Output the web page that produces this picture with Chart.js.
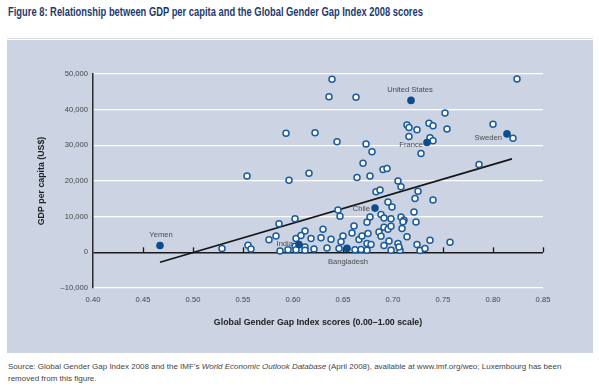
<!DOCTYPE html>
<html lang="en">
<head>
<meta charset="UTF-8">
<title>GDP per capita and the Global Gender Gap Index 2008</title>
<script src="https://cdn.jsdelivr.net/npm/chart.js"></script>
<style>
  body {
    margin: 0;
    width: 599px;
    height: 386px;
    position: relative;
    overflow: hidden;
    background: #fff;
    font-family: "Liberation Sans Narrow", "Liberation Sans", Arial, sans-serif;
  }
  .title {
    position: absolute;
    left: 8px;
    top: 5px;
    font-size: 12px;
    font-weight: bold;
    color: #1d3b6f;
    white-space: nowrap;
    transform: scaleX(0.78);
    transform-origin: left top;
  }
  .rule {
    position: absolute;
    left: 7px;
    width: 586px;
    top: 38px;
    border-top: 1px solid #dcdcdc;
  }
  .panel {
    position: absolute;
    left: 7px;
    top: 40px;
    width: 586px;
    height: 313px;
    background: #ccd3e3;
  }
  .source {
    position: absolute;
    left: 8px;
    top: 361px;
    font-size: 8px;
    line-height: 12px;
    color: #444;
    white-space: nowrap;
  }
</style>
</head>
<body>
<div class="title">Figure 8: Relationship between GDP per capita and the Global Gender Gap Index 2008 scores</div>
<div class="rule"></div>
<div class="panel"><canvas id="chart" width="586" height="313"></canvas></div>
<div class="source">Source: Global Gender Gap Index 2008 and the IMF's <i>World Economic Outlook Database</i> (April 2008), available at www.imf.org/weo; Luxembourg has been<br>removed from this figure.</div>

<script>
// unlabelled countries (open dots)
var openScores = [
  0.639, 0.824, 0.636, 0.663, 0.752, 0.593, 0.622, 0.644, 0.673, 0.679,
  0.714, 0.716, 0.724, 0.716, 0.736, 0.740, 0.754, 0.737, 0.740, 0.728,
  0.800, 0.820, 0.786, 0.554, 0.596, 0.616, 0.670, 0.690, 0.694, 0.664,
  0.677, 0.705, 0.708, 0.683, 0.687, 0.725, 0.722, 0.740, 0.695, 0.699,
  0.645, 0.647, 0.677, 0.674, 0.688, 0.691, 0.698, 0.708, 0.711, 0.710,
  0.721, 0.723, 0.661, 0.659, 0.650, 0.648, 0.646, 0.630, 0.628, 0.638,
  0.634, 0.618, 0.621, 0.612, 0.612, 0.612, 0.662, 0.668, 0.666, 0.669,
  0.675, 0.674, 0.674, 0.678, 0.686, 0.688, 0.691, 0.695, 0.698, 0.691,
  0.696, 0.698, 0.705, 0.707, 0.706, 0.709, 0.714, 0.724, 0.727, 0.732,
  0.737, 0.757, 0.529, 0.555, 0.558, 0.576, 0.583, 0.586, 0.602, 0.587,
  0.595, 0.602, 0.603, 0.608, 0.603
];
var openGdp = [
  48500, 48600, 43600, 43500, 39100, 33400, 33500, 31000, 30400, 28200,
  35700, 35000, 34400, 32500, 36200, 35500, 34600, 32100, 31300, 27700,
  35900, 32000, 24600, 21400, 20200, 22200, 25000, 23200, 23500, 21000,
  21400, 20000, 18400, 17000, 17500, 17100, 15100, 14700, 14100, 12700,
  11900, 10100, 9900, 8400, 10600, 9600, 9400, 9900, 9000, 8600,
  11300, 8500, 7400, 5400, 4600, 3000, 1100, 6500, 4100, 3700,
  1200, 3900, 900, 6000, 1500, 600, 700, 800, 3600, 4600,
  5300, 2500, 600, 2200, 5700, 4500, 7000, 6500, 7300, 1900,
  3200, 600, 2500, 600, 1500, 6700, 4400, 2200, 500, 1100,
  3400, 2800, 1100, 2000, 900, 3500, 4600, 8000, 9400, 400,
  700, 1700, 3900, 4700, 700
];

// labelled countries (filled dots)
var namedCountries = ['Yemen', 'India', 'Bangladesh', 'Chile', 'France', 'United States', 'Sweden'];
var namedScores = [0.467, 0.606, 0.654, 0.682, 0.734, 0.718, 0.814];
var namedGdp = [1900, 2200, 1100, 12400, 30800, 42600, 33200];

// fitted trend line
var trendScores = [0.467, 0.819];
var trendGdp = [-2800, 26200];

function pairs(xs, ys) {
  return xs.map(function(x, i) { return {x: x, y: ys[i]}; });
}

// where each country name sits next to its dot: dx, dy, alignment
var labelPlace = {
  'Yemen': [1, -11, 'center'],
  'India': [-6, -1, 'right'],
  'Bangladesh': [1, 13, 'center'],
  'Chile': [-5, 1, 'right'],
  'France': [-4, 2, 'right'],
  'United States': [-1, -10, 'center'],
  'Sweden': [-5, 4, 'right']
};

var countryLabels = {
  id: 'countryLabels',
  afterDatasetsDraw: function(chart) {
    var ctx = chart.ctx;
    var meta = chart.getDatasetMeta(0);
    ctx.save();
    ctx.font = '7.6px "Liberation Sans Narrow", "Liberation Sans", Arial, sans-serif';
    ctx.fillStyle = '#4a4a4a';
    ctx.textBaseline = 'middle';
    meta.data.forEach(function(pt, i) {
      var p = labelPlace[namedCountries[i]];
      ctx.textAlign = p[2];
      ctx.fillText(namedCountries[i], pt.x + p[0], pt.y + p[1]);
    });
    ctx.restore();
  }
};

// small tick marks standing on the zero line
var zeroTicks = {
  id: 'zeroTicks',
  beforeDatasetsDraw: function(chart) {
    var ctx = chart.ctx;
    var xs = chart.scales.x;
    var y0 = chart.scales.y.getPixelForValue(0);
    ctx.save();
    ctx.strokeStyle = '#1a1a1a';
    ctx.lineWidth = 1.3;
    xs.ticks.forEach(function(t, i) {
      if (i === 0) return;
      var px = Math.round(xs.getPixelForValue(t.value)) + 0.5;
      ctx.beginPath();
      ctx.moveTo(px, y0);
      ctx.lineTo(px, y0 - 5);
      ctx.stroke();
    });
    ctx.restore();
  }
};

Chart.defaults.font.family = '"Liberation Sans Narrow", "Liberation Sans", Arial, sans-serif';
Chart.defaults.color = '#444';

new Chart(document.getElementById('chart'), {
  type: 'scatter',
  data: {
    datasets: [{
      data: pairs(namedScores, namedGdp),
      pointRadius: 3.8,
      pointBorderWidth: 0,
      backgroundColor: '#0e4d8c',
      borderColor: '#0e4d8c'
    }, {
      data: pairs(openScores, openGdp),
      pointRadius: 3,
      pointBorderWidth: 1.5,
      backgroundColor: '#ffffff',
      borderColor: '#1b5c9c'
    }, {
      type: 'line',
      data: pairs(trendScores, trendGdp),
      borderColor: '#151515',
      borderWidth: 1.6,
      pointRadius: 0,
      fill: false
    }]
  },
  options: {
    responsive: false,
    animation: false,
    events: [],
    layout: {
      padding: {left: 20, right: 50, top: 34, bottom: 0}
    },
    plugins: {
      legend: {display: false},
      tooltip: {enabled: false}
    },
    scales: {
      x: {
        type: 'linear',
        min: 0.40,
        max: 0.85,
        afterFit: function(scale) { scale.height = 65; },
        grid: {display: false, drawTicks: false},
        border: {display: false},
        ticks: {
          stepSize: 0.05,
          padding: 7,
          font: {size: 7.6},
          color: '#444',
          callback: function(v) { return v.toFixed(2); }
        },
        title: {
          display: true,
          text: 'Global Gender Gap Index scores (0.00\u20131.00 scale)',
          font: {size: 8.8, weight: 'bold'},
          color: '#222',
          padding: {top: 0, bottom: 25}
        }
      },
      y: {
        min: -10000,
        max: 50000,
        afterFit: function(scale) { scale.width = 66; },
        grid: {
          drawTicks: false,
          color: function(c) { return c.tick.value === 0 ? '#1a1a1a' : '#ffffff'; },
          lineWidth: function(c) { return c.tick.value === 0 ? 1.5 : 1.3; }
        },
        border: {display: true, color: '#2a2a2a', width: 1.5},
        ticks: {
          stepSize: 10000,
          padding: 5,
          font: {size: 7.6},
          color: '#444',
          callback: function(v) {
            if (v === 0) return '0';
            return (v < 0 ? '\u2013' : '') + Math.abs(v).toLocaleString('en-US');
          }
        },
        title: {
          display: true,
          text: 'GDP per capita (US$)',
          font: {size: 8.8, weight: 'bold'},
          color: '#222',
          padding: {top: 9, bottom: 0}
        }
      }
    }
  },
  plugins: [countryLabels, zeroTicks]
});
</script>
</body>
</html>
